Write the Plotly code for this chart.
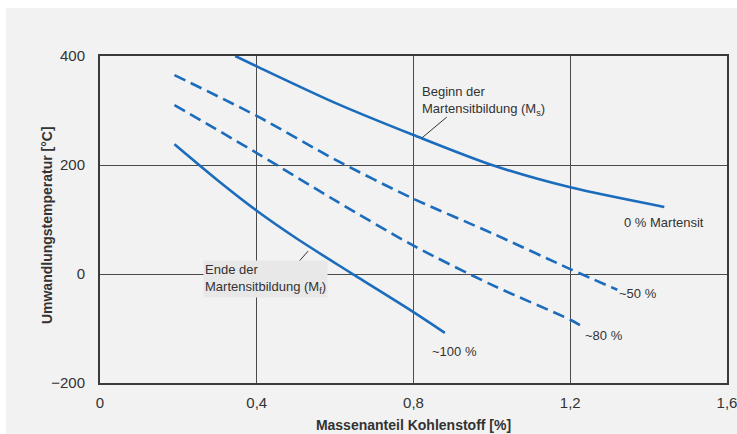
import plotly.graph_objects as go

# Data: carbon content [%] vs. transformation temperature [°C]
ms_x = [0.345, 0.40, 0.60, 0.80, 1.00, 1.20, 1.44]
ms_y = [400, 381, 314, 255, 200, 159, 123]

m50_x = [0.19, 0.40, 0.60, 0.80, 1.00, 1.20, 1.32]
m50_y = [365, 290, 210, 138, 75, 9, -29]

m80_x = [0.19, 0.40, 0.60, 0.80, 1.00, 1.20, 1.23]
m80_y = [310, 222, 135, 52, -20, -84, -96]

mf_x = [0.19, 0.30, 0.40, 0.50, 0.64, 0.80, 0.88]
mf_y = [238, 172, 116, 66, 2, -70, -108]

x_ticks = [0, 0.4, 0.8, 1.2, 1.6]
x_tick_labels = ["0", "0,4", "0,8", "1,2", "1,6"]
y_ticks = [-200, 0, 200, 400]
y_tick_labels = ["\u2212200", "0", "200", "400"]

BLUE = "#1b6cbc"
FONT = "Liberation Sans Narrow, Liberation Sans, Arial"
TXT = "#333333"
PLOT_BG = "#e8e8e8"

fig = go.Figure()
for xs, ys, dash in [(ms_x, ms_y, "solid"), (m50_x, m50_y, "12px,6px"),
                     (m80_x, m80_y, "12px,6px"), (mf_x, mf_y, "solid")]:
    fig.add_trace(go.Scatter(x=xs, y=ys, mode="lines",
                             line=dict(color=BLUE, width=2.6, dash=dash, shape="spline", smoothing=0.8),
                             hoverinfo="skip", showlegend=False))

# outer light-gray panel
fig.add_shape(type="rect", xref="paper", yref="paper", x0=-0.15, x1=1.05, y0=-0.2, y1=1.147,
              fillcolor="#f2f2f2", line=dict(width=0), layer="below")

# leader lines
fig.add_shape(type="line", x0=0.885, y0=288, x1=0.822, y1=250, line=dict(color="#333", width=1))
fig.add_shape(type="line", x0=0.482, y0=2, x1=0.531, y1=42, line=dict(color="#333", width=1))

ann_font = dict(family=FONT, size=13, color=TXT)
fig.add_annotation(x=0.817, y=317, text="Beginn der<br>Martensitbildung (M<sub>s</sub>)",
                   showarrow=False, xanchor="left", yanchor="middle", align="left", font=ann_font)
fig.add_annotation(x=0.262, y=-9, text="Ende der<br>Martensitbildung (M<sub>f</sub>)",
                   showarrow=False, xanchor="left", yanchor="middle", align="left", font=ann_font,
                   bgcolor=PLOT_BG, borderpad=1)
fig.add_annotation(x=1.332, y=95, text="0 % Martensit", showarrow=False, xanchor="left",
                   yanchor="middle", font=ann_font)
fig.add_annotation(x=1.32, y=-35, text="~50 %", showarrow=False, xanchor="left",
                   yanchor="middle", font=ann_font)
fig.add_annotation(x=1.232, y=-112, text="~80 %", showarrow=False, xanchor="left",
                   yanchor="middle", font=ann_font)
fig.add_annotation(x=0.842, y=-143, text="~100 %", showarrow=False, xanchor="left",
                   yanchor="middle", font=ann_font)

# y-axis title as annotation for precise placement
fig.add_annotation(xref="paper", yref="paper", x=-0.0845, y=0.483,
                   text="<b>Umwandlungstemperatur [°C]</b>", textangle=-90, showarrow=False,
                   xanchor="center", yanchor="middle", font=dict(size=14, family=FONT, color=TXT))

fig.update_layout(
    width=737, height=434,
    margin=dict(l=100, r=10, t=56, b=51),
    paper_bgcolor="white", plot_bgcolor=PLOT_BG,
    font=dict(family=FONT, size=15, color=TXT),
    xaxis=dict(range=[0, 1.6], tickvals=x_ticks, ticktext=x_tick_labels,
               showgrid=True, gridcolor="#4a4a4a", gridwidth=1.3, zeroline=False,
               showline=True, linecolor="#3a3a3a", linewidth=2, mirror=True,
               ticks="", ticklabelstandoff=5, automargin=False, ticklabeloverflow="allow",
               title=dict(text="<b>Massenanteil Kohlenstoff [%]</b>", font=dict(size=14, family=FONT, color=TXT),
                          standoff=10)),
    yaxis=dict(range=[-200, 400], tickvals=y_ticks, ticktext=y_tick_labels,
               showgrid=True, gridcolor="#4a4a4a", gridwidth=1.3, zeroline=False,
               showline=True, linecolor="#3a3a3a", linewidth=2, mirror=True,
               ticks="", ticklabelstandoff=10, automargin=False, ticklabeloverflow="allow"),
)

fig.write_html("out.html", post_script="document.body.style.margin='0px';",
               config={"displayModeBar": False})
